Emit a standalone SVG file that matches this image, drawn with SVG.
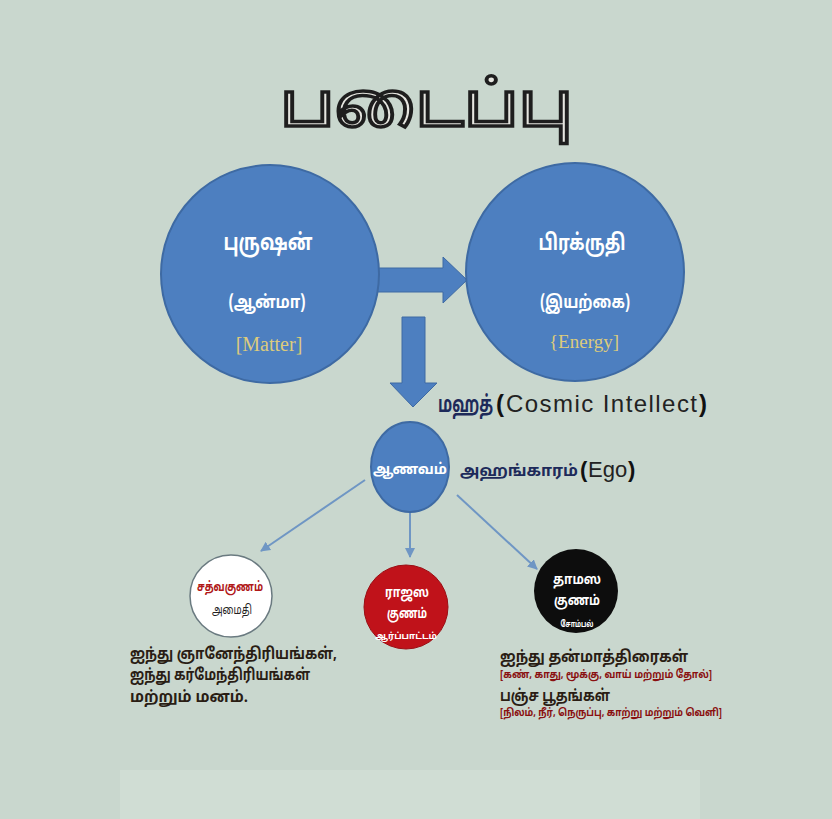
<svg xmlns="http://www.w3.org/2000/svg" width="832" height="819" viewBox="0 0 832 819">
<defs>
<style>
.ta{font-family:"Noto Sans Tamil","Lohit Tamil","Noto Sans","Liberation Sans",sans-serif;}
.lt{font-family:"Liberation Sans",Arial,sans-serif;}
.par{font-family:"Liberation Sans",Arial,sans-serif;font-weight:bold;fill:#111;}
.big{fill:#4d7fc0;stroke:#3e6aa3;stroke-width:2;}
.wt{fill:#ffffff;font-weight:bold;text-anchor:middle;}
.en{font-family:"Liberation Serif",serif;fill:#dccb7c;text-anchor:middle;}
.thin{stroke:#6f96c4;stroke-width:2;fill:none;marker-end:url(#ah);}
.blk{fill:#2a1d14;font-weight:bold;font-size:16px;}
.red{fill:#8a1010;font-size:11px;font-weight:bold;}
</style>
<marker id="ah" viewBox="0 0 10 10" refX="9" refY="5" markerWidth="5" markerHeight="5" orient="auto">
<path d="M0,0 L10,5 L0,10 z" fill="#6f96c4"/>
</marker>
</defs>
<rect x="0" y="0" width="832" height="819" fill="#c9d7ce"/>
<rect x="120" y="770" width="580" height="49" fill="#d0ddd4"/>
<text x="280" y="126" textLength="293" lengthAdjust="spacingAndGlyphs" class="ta" font-size="62" fill="#e6e6e0" stroke="#1e1e1e" stroke-width="3.5">படைப்பு</text>

<g id="connectors">
<path d="M377,268 L443,268 L443,257 L467,280 L443,303 L443,292 L377,292 z" fill="#4d7fc0" stroke="#3e6aa3" stroke-width="1"/>
<path d="M402,317 L425,317 L425,383 L437,383 L413,407 L390,383 L402,383 z" fill="#4d7fc0" stroke="#3e6aa3" stroke-width="1"/>
<line class="thin" x1="365" y1="480" x2="261" y2="551"/>
<line class="thin" x1="410" y1="512" x2="410" y2="557"/>
<line class="thin" x1="457" y1="495" x2="537" y2="569"/>
</g>

<g id="purushan">
<circle class="big" cx="270" cy="274" r="109"/>
<text class="ta wt" x="268" y="250" font-size="23" textLength="89" lengthAdjust="spacingAndGlyphs">புருஷன்</text>
<text class="ta wt" x="267" y="308" font-size="18" textLength="77" lengthAdjust="spacingAndGlyphs">(ஆன்மா)</text>
<text class="en" x="269" y="351" font-size="20">[Matter]</text>
</g>

<g id="prakruti">
<circle class="big" cx="575" cy="272" r="109"/>
<text class="ta wt" x="582" y="250" font-size="22" textLength="87" lengthAdjust="spacingAndGlyphs">பிரக்ருதி</text>
<text class="ta wt" x="585" y="308" font-size="18" textLength="90" lengthAdjust="spacingAndGlyphs">(இயற்கை)</text>
<text class="en" x="584" y="348" font-size="19">{Energy]</text>
</g>

<g id="mahat">
<text class="ta" transform="translate(438,412) scale(0.66,1)" x="0" y="0" font-size="23" font-weight="bold" fill="#1d2a5a">மஹத்</text>
<text class="par" x="496" y="412" font-size="24">(</text>
<text class="lt" x="506" y="412" font-size="24" fill="#222" textLength="191" lengthAdjust="spacing">Cosmic  Intellect</text>
<text class="par" x="699" y="412" font-size="24">)</text>
</g>

<g id="aanavam">
<ellipse class="big" cx="410" cy="467" rx="39" ry="45"/>
<text class="ta wt" x="410" y="474" font-size="15" textLength="74" lengthAdjust="spacingAndGlyphs">ஆணவம்</text>
<text class="ta" x="460" y="476" font-size="16" font-weight="bold" fill="#1d2a5a" textLength="118" lengthAdjust="spacingAndGlyphs">அஹங்காரம்</text>
<text class="par" x="580" y="477" font-size="22">(</text>
<text class="lt" x="588" y="477" font-size="22" fill="#222">Ego</text>
<text class="par" x="628" y="477" font-size="22">)</text>
</g>

<g id="sattva">
<circle cx="231" cy="596" r="41" fill="#ffffff" stroke="#6a7a80" stroke-width="1.5"/>
<text class="ta" x="230" y="591" font-size="13" font-weight="bold" fill="#b01818" text-anchor="middle" textLength="66" lengthAdjust="spacingAndGlyphs">சத்வகுணம்</text>
<text class="ta" x="232" y="614" font-size="13" fill="#222" text-anchor="middle" textLength="40" lengthAdjust="spacingAndGlyphs">அமைதி</text>
</g>

<g id="rajasa">
<circle cx="406" cy="607" r="42" fill="#c0121a" stroke="#9a0e14" stroke-width="1"/>
<text class="ta wt" x="407" y="597" font-size="14" font-weight="normal" textLength="44" lengthAdjust="spacingAndGlyphs">ராஜஸ</text>
<text class="ta wt" x="407" y="618" font-size="14" textLength="40" lengthAdjust="spacingAndGlyphs">குணம்</text>
<text class="ta wt" x="406" y="639" font-size="9" textLength="62" lengthAdjust="spacingAndGlyphs">ஆர்ப்பாட்டம்</text>
</g>

<g id="tamasa">
<circle cx="576" cy="591" r="42" fill="#0d0d0d"/>
<text class="ta wt" x="577" y="584" font-size="14" font-weight="normal" textLength="48" lengthAdjust="spacingAndGlyphs">தாமஸ</text>
<text class="ta wt" x="577" y="605" font-size="14" textLength="46" lengthAdjust="spacingAndGlyphs">குணம்</text>
<text class="ta wt" x="577" y="627" font-size="9" textLength="33" lengthAdjust="spacingAndGlyphs">சோம்பல்</text>
</g>

<g id="sattva-text">
<text class="ta blk" x="130" y="659" textLength="207" lengthAdjust="spacingAndGlyphs">ஐந்து  ஞானேந்திரியங்கள்,</text>
<text class="ta blk" x="130" y="680" textLength="180" lengthAdjust="spacingAndGlyphs">ஐந்து  கர்மேந்திரியங்கள்</text>
<text class="ta blk" x="130" y="702" textLength="118" lengthAdjust="spacingAndGlyphs">மற்றும்  மனம்.</text>
</g>

<g id="tamasa-text">
<text class="ta blk" x="500" y="662" font-size="18" textLength="188" lengthAdjust="spacingAndGlyphs">ஐந்து  தன்மாத்திரைகள்</text>
<text class="ta red" x="500" y="678" textLength="212" lengthAdjust="spacingAndGlyphs">[கண், காது, மூக்கு, வாய் மற்றும் தோல்]</text>
<text class="ta blk" x="500" y="701" font-size="18" textLength="110" lengthAdjust="spacingAndGlyphs">பஞ்ச  பூதங்கள்</text>
<text class="ta red" x="500" y="716" textLength="222" lengthAdjust="spacingAndGlyphs">[நிலம், நீர், நெருப்பு, காற்று மற்றும் வெளி]</text>
</g>
</svg>
